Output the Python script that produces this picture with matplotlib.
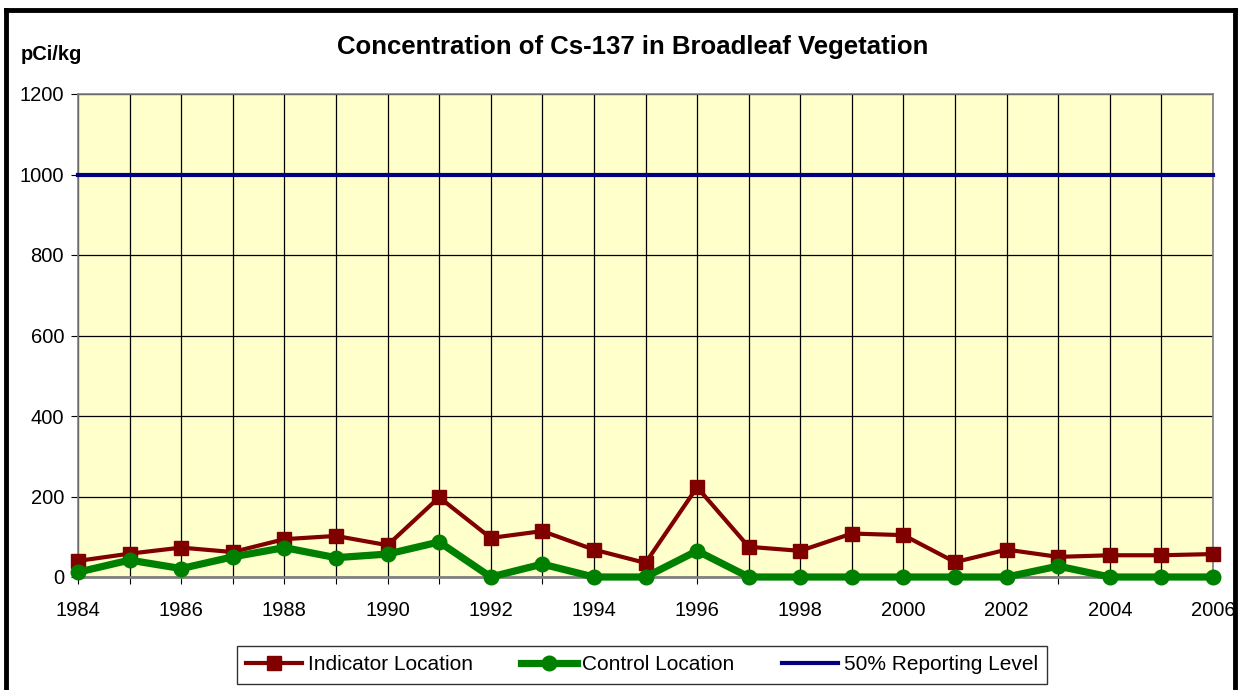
import matplotlib.pyplot as plt
from matplotlib.lines import Line2D

plt.rcParams['font.family'] = ['Liberation Sans', 'DejaVu Sans']

# dados
anos = list(range(1984, 2007))
indicador = [40, 58, 73, 62, 94, 102, 79, 198, 97, 114, 68,
             35, 223, 75, 65, 108, 104, 37, 68, 50, 54, 54, 57]
controle = [12, 42, 21, 50, 73, 48, 57, 87, 0, 32, 0,
            0, 65, 0, 0, 0, 0, 0, 0, 27, 0, 0, 0]
nivel_referencia = 1000
y_ticks = [0, 200, 400, 600, 800, 1000, 1200]
x_labels = list(range(1984, 2007, 2))

W, H = 1239, 690
fig = plt.figure(figsize=(W / 100, H / 100), dpi=100)
fig.patch.set_facecolor('white')

# moldura preta externa (sem borda inferior, cortada na imagem)
esq, dir_, topo = 5.5, 1234.5, 9.5
for xs, ys in [([esq, dir_], [topo, topo]), ([esq, esq], [topo, H]), ([dir_, dir_], [topo, H])]:
    fig.add_artist(Line2D([x / W for x in xs], [1 - y / H for y in ys], color='black',
                          lw=3.5, transform=fig.transFigure, solid_capstyle='projecting'))

left, right, top, bottom = 78, 1213, 94, 577
ax = fig.add_axes([left / W, 1 - bottom / H, (right - left) / W, (bottom - top) / H])
ax.set_facecolor('#FFFFCC')

ax.axhline(nivel_referencia, color='#000080', lw=3, zorder=3, clip_on=False)
ax.plot(anos, indicador, color='#800000', lw=3, marker='s', markersize=10.5, zorder=4, clip_on=False)
ax.plot(anos, controle, color='#008000', lw=5.2, marker='o', markersize=10.5, zorder=5, clip_on=False)

ax.set_xlim(1984, 2006)
ax.set_ylim(0, 1200)
ax.set_yticks(y_ticks)
ax.set_xticks(anos)
ax.set_xticklabels([str(a) if a in x_labels else '' for a in anos])
ax.tick_params(axis='both', labelsize=14.5, direction='out', length=5, color='black')
ax.tick_params(axis='x', pad=12)
ax.tick_params(axis='y', pad=5)
ax.grid(True, color='black', lw=0.9, zorder=1)
ax.set_axisbelow(True)
for lado in ['top', 'right', 'left']:
    ax.spines[lado].set_color('#808080')
    ax.spines[lado].set_linewidth(1.2)
ax.spines['bottom'].set_color('#808080')
ax.spines['bottom'].set_linewidth(2)

fig.text(633 / W, 1 - 47 / H, 'Concentration of Cs-137 in Broadleaf Vegetation',
         ha='center', va='center', fontsize=18.5, fontweight='bold')
fig.text(21 / W, 1 - 55 / H, 'pCi/kg', ha='left', va='center', fontsize=14.5, fontweight='bold')

handles = [
    Line2D([], [], color='#800000', lw=3, marker='s', markersize=10.5),
    Line2D([], [], color='#008000', lw=5.2, marker='o', markersize=10.5),
    Line2D([], [], color='#000080', lw=3),
]
leg = fig.legend(handles, ['Indicator Location', 'Control Location', '50% Reporting Level'],
                 loc='center', bbox_to_anchor=(642 / W, 1 - 665 / H), ncol=3, fontsize=15,
                 frameon=True, fancybox=False, handlelength=2.7, handletextpad=0.25,
                 columnspacing=2.3, borderpad=0.45, borderaxespad=0)
leg.get_frame().set_edgecolor('black')
leg.get_frame().set_linewidth(1)

fig.savefig('out.png', dpi=100)
